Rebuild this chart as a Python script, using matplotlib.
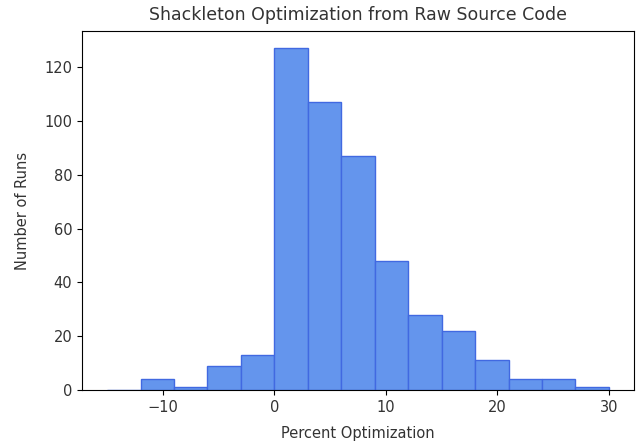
import numpy as np
import matplotlib
matplotlib.use("Agg")
from matplotlib import pyplot as plt

# bin edges and counts (width 3, first bin empty)
bin_edges = [-15, -12, -9, -6, -3, 0, 3, 6, 9, 12, 15, 18, 21, 24, 27, 30]
counts = [0, 4, 1, 9, 13, 127, 107, 87, 48, 28, 22, 11, 4, 4, 1]

txt = "#333333"
plt.rcParams["text.color"] = txt
plt.rcParams["axes.labelcolor"] = txt
plt.rcParams["xtick.labelcolor"] = txt
plt.rcParams["ytick.labelcolor"] = txt

fig = plt.figure(figsize=(6.41, 4.44), dpi=100)
ax = fig.add_axes([0.128, 0.1216, 0.861, 0.8084])

# histogram from precomputed counts: one weight per bin centre
centres = (np.array(bin_edges[:-1]) + np.array(bin_edges[1:])) / 2
ax.hist(centres, bins=bin_edges, weights=counts,
        color="cornflowerblue", edgecolor="royalblue", linewidth=1)

ax.set_title("Shackleton Optimization from Raw Source Code", fontsize=12.5, pad=8)
ax.set_xlabel("Percent Optimization", fontsize=10.5, labelpad=8)
ax.set_ylabel("Number of Runs", fontsize=10.5, labelpad=10)
ax.tick_params(labelsize=10.5)

fig.savefig("out.png", dpi=100)
